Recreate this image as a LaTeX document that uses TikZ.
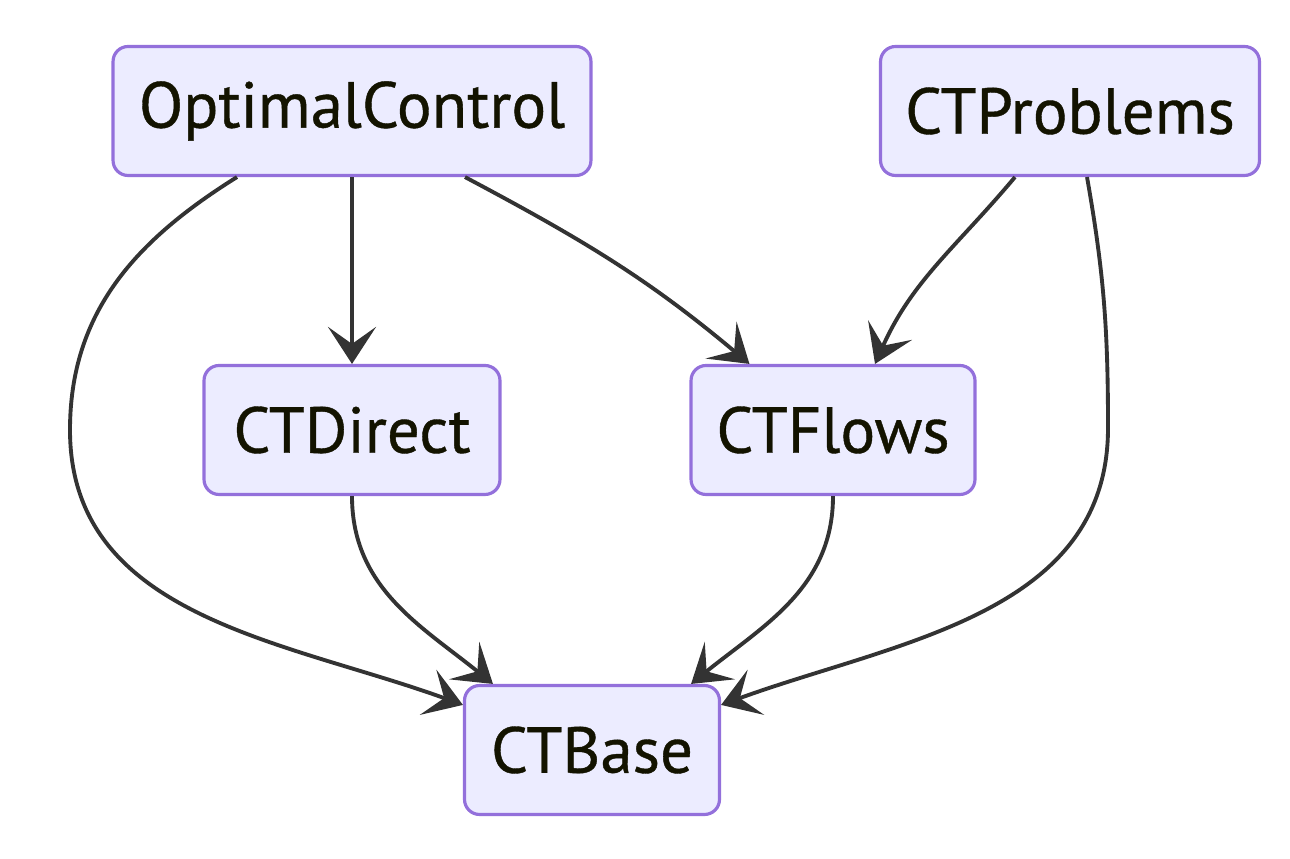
\documentclass[tikz,border=0pt]{standalone}
\usepackage{fontspec}
\setmainfont{PT Sans}
\usetikzlibrary{arrows.meta, positioning, calc}
\definecolor{boxfill}{HTML}{ECECFF}
\definecolor{boxline}{HTML}{9370DB}
\definecolor{edgeline}{HTML}{333333}
\definecolor{labeltext}{HTML}{131300}
\begin{document}
\begin{tikzpicture}[
        x=0.02cm, y=0.02cm,
        font=\fontsize{37}{44}\selectfont\addfontfeature{FakeBold=0.6},
        pkg/.style={rectangle, draw=boxline, fill=boxfill, text=labeltext, line width=1.8pt, rounded corners=0.3cm, minimum height=2.58cm, text centered},
        dep/.style={draw=edgeline, line width=2.2pt, -{Stealth[length=0.74cm, width=0.96cm, inset=0.34cm]}}
    ]
        \useasboundingbox (0,0) rectangle (1290,858);

        \node (optimal) [pkg, minimum width=9.56cm] at (352,747) {OptimalControl};
        \node (problems) [pkg, minimum width=7.58cm] at (1070,747) {CTProblems};
        \node (direct) [pkg, minimum width=5.92cm] at (352,428) {CTDirect};
        \node (flows) [pkg, minimum width=5.68cm] at (833,428) {CTFlows};
        \node (base) [pkg, minimum width=5.1cm] at (592,108) {CTBase};

        \coordinate (leftbend) at (70,428);
        \coordinate (rightbend) at (1108,430);

        \draw [dep] ($(optimal.south)+(-115,0)$) to[out=212, in=90] (leftbend) to[out=-90, in=160] ($(base.north west)+(0,-21)$);
        \draw [dep] (optimal.south) -- (direct.north);
        \draw [dep] ($(optimal.south)+(113,0)$) to[out=-28, in=140] ($(flows.north west)+(60,0)$);
        \draw [dep] ($(problems.south)+(-55,0)$) to[out=-130, in=66] ($(flows.north)+(42,0)$);
        \draw [dep] ($(problems.south)+(17,0)$) to[out=-80, in=90] (rightbend) to[out=-90, in=20] ($(base.north east)+(0,-21)$);
        \draw [dep] (direct.south) to[out=-90, in=141] ($(base.north west)+(30,0)$);
        \draw [dep] (flows.south) to[out=-90, in=39] ($(base.north east)+(-30,0)$);
    \end{tikzpicture}
\end{document}
